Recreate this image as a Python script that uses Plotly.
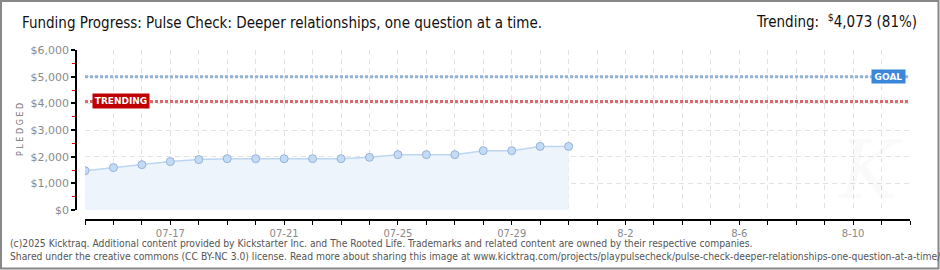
import plotly.graph_objects as go
import pandas as pd

# ---- data ----
dates = pd.date_range("2025-07-14", "2025-07-31", freq="D").strftime("%Y-%m-%d").tolist()
pledged = [1475, 1590, 1700, 1815, 1890, 1925, 1925, 1925, 1925, 1925,
           1975, 2075, 2075, 2075, 2225, 2225, 2385, 2385]
goal = 5000
trending = 4073
x_start = "2025-07-14"
x_end = "2025-08-12"
label_dates = ["2025-07-17", "2025-07-21", "2025-07-25", "2025-07-29",
               "2025-08-02", "2025-08-06", "2025-08-10"]
label_texts = ["07-17", "07-21", "07-25", "07-29", "8-2", "8-6", "8-10"]
title_text = "Funding Progress: Pulse Check: Deeper relationships, one question at a time."
footer1 = ("(c)2025 Kicktraq. Additional content provided by Kickstarter Inc. and The Rooted Life. "
           "Trademarks and related content are owned by their respective companies.")
footer2 = ("Shared under the creative commons (CC BY-NC 3.0) license. Read more about sharing this image at "
           "www.kicktraq.com/projects/playpulsecheck/pulse-check-deeper-relationships-one-question-at-a-time/")

# ---- geometry (pixels) ----
W, H = 940, 270
L, R, T, B = 76, 30, 50, 50
PW, PH = W - L - R, H - T - B  # paper size


def px(xp):
    return (xp - L) / PW


def py(yp):
    return (H - B - yp) / PH


DAY_MS = 86400000
grid = dict(showgrid=True, gridcolor="#E2E2E2", gridwidth=1, griddash="5px,4px")

fig = go.Figure()

# goal & trending lines
fig.add_trace(go.Scatter(x=[x_start, x_end], y=[goal, goal], mode="lines",
                         line=dict(color="#93B2DA", width=3, dash="3px,2px"),
                         hoverinfo="skip", showlegend=False))
fig.add_trace(go.Scatter(x=[x_start, x_end], y=[trending, trending], mode="lines",
                         line=dict(color="#E0676B", width=3, dash="3px,2px"),
                         hoverinfo="skip", showlegend=False))

# pledged series
fig.add_trace(go.Scatter(x=dates, y=pledged, mode="lines+markers",
                         fill="tozeroy", fillcolor="#EDF4FC",
                         line=dict(color="#BCD6F2", width=1.5),
                         marker=dict(size=8, color="#C4DBF6",
                                     line=dict(color="#94B2D8", width=1)),
                         showlegend=False))

fig.update_layout(
    width=W, height=H,
    margin=dict(l=L, r=R, t=T, b=B, pad=0),
    paper_bgcolor="white", plot_bgcolor="white",
    showlegend=False,
    font=dict(family="DejaVu Sans", color="#888888"),
    xaxis=dict(
        type="date", range=[x_start, x_end], domain=[9 / PW, 1],
        anchor="free", position=0,
        tickmode="array", tickvals=label_dates, ticktext=label_texts,
        ticks="outside", ticklen=4, tickcolor="black", tickwidth=1,
        minor=dict(tickmode="linear", tick0=x_start, dtick=DAY_MS,
                   ticks="outside", ticklen=4, tickcolor="black", tickwidth=1,
                   **grid),
        showline=True, linecolor="black", linewidth=1.5,
        tickfont=dict(size=10, color="#8a8a8a", family="DejaVu Sans"),
        zeroline=False, **grid,
    ),
    yaxis=dict(
        range=[0, 6000], domain=[10 / PH, 1],
        anchor="free", position=0,
        dtick=1000, tick0=0, tickprefix="$", tickformat=",d",
        ticks="outside", ticklen=4, tickcolor="black", tickwidth=1.5,
        showline=True, linecolor="black", linewidth=1.5,
        minor=dict(dtick=500, ticks="outside", ticklen=3, tickcolor="#E00000",
                   tickwidth=1, showgrid=False),
        tickfont=dict(size=11, color="#8a8a8a", family="DejaVu Sans"),
        zeroline=False, **grid,
    ),
)

ann = []
head_font = "Liberation Sans Narrow, DejaVu Sans Condensed, Roboto"
# title
ann.append(dict(text=title_text, xref="paper", yref="paper", x=px(20), y=py(23),
                xanchor="left", yanchor="middle", showarrow=False,
                font=dict(size=15, color="#111111", family=head_font)))
pct = round(trending / goal * 100)
ann.append(dict(text=f"Trending:  <sup>$</sup>{trending:,} ({pct}%)", xref="paper", yref="paper",
                x=px(919), y=py(21), xanchor="right", yanchor="middle", showarrow=False,
                font=dict(size=15, color="#111111", family=head_font)))
# y title
ann.append(dict(text="P L E D G E D", xref="paper", yref="paper", x=px(20), y=py(130),
                xanchor="center", yanchor="middle", textangle=-90, showarrow=False,
                font=dict(size=8, color="#777777", family="DejaVu Sans")))
# labels on lines
ann.append(dict(text="<b>TRENDING</b>", xref="paper", yref="y", x=px(121), y=trending,
                xanchor="center", yanchor="middle", showarrow=False,
                bgcolor="#C00000", borderpad=1, width=54, height=12,
                font=dict(size=9, color="white", family="DejaVu Sans")))
ann.append(dict(text="<b>GOAL</b>", xref="paper", yref="y", x=px(888), y=goal,
                xanchor="center", yanchor="middle", showarrow=False,
                bgcolor="#3A86D8", borderpad=1, width=31, height=11,
                font=dict(size=9, color="white", family="DejaVu Sans")))
# watermark
ann.append(dict(text="<i>K</i>", xref="paper", yref="paper", x=px(870), y=py(170),
                xanchor="center", yanchor="middle", showarrow=False,
                font=dict(size=80, color="rgba(0,0,0,0.018)", family="DejaVu Serif")))
# footer
for txt, yy in [(footer1, 243), (footer2, 256)]:
    ann.append(dict(text=txt, xref="paper", yref="paper", x=px(8), y=py(yy),
                    xanchor="left", yanchor="middle", showarrow=False,
                    font=dict(size=10.25, color="#555555", family=head_font)))
fig.update_layout(annotations=ann)

# outer border
fig.add_shape(type="rect", xref="paper", yref="paper",
              x0=px(1), x1=px(938.5), y0=py(268.5), y1=py(1),
              line=dict(color="#888888", width=2), fillcolor="rgba(0,0,0,0)", layer="above")

fig.write_html("out.html")
